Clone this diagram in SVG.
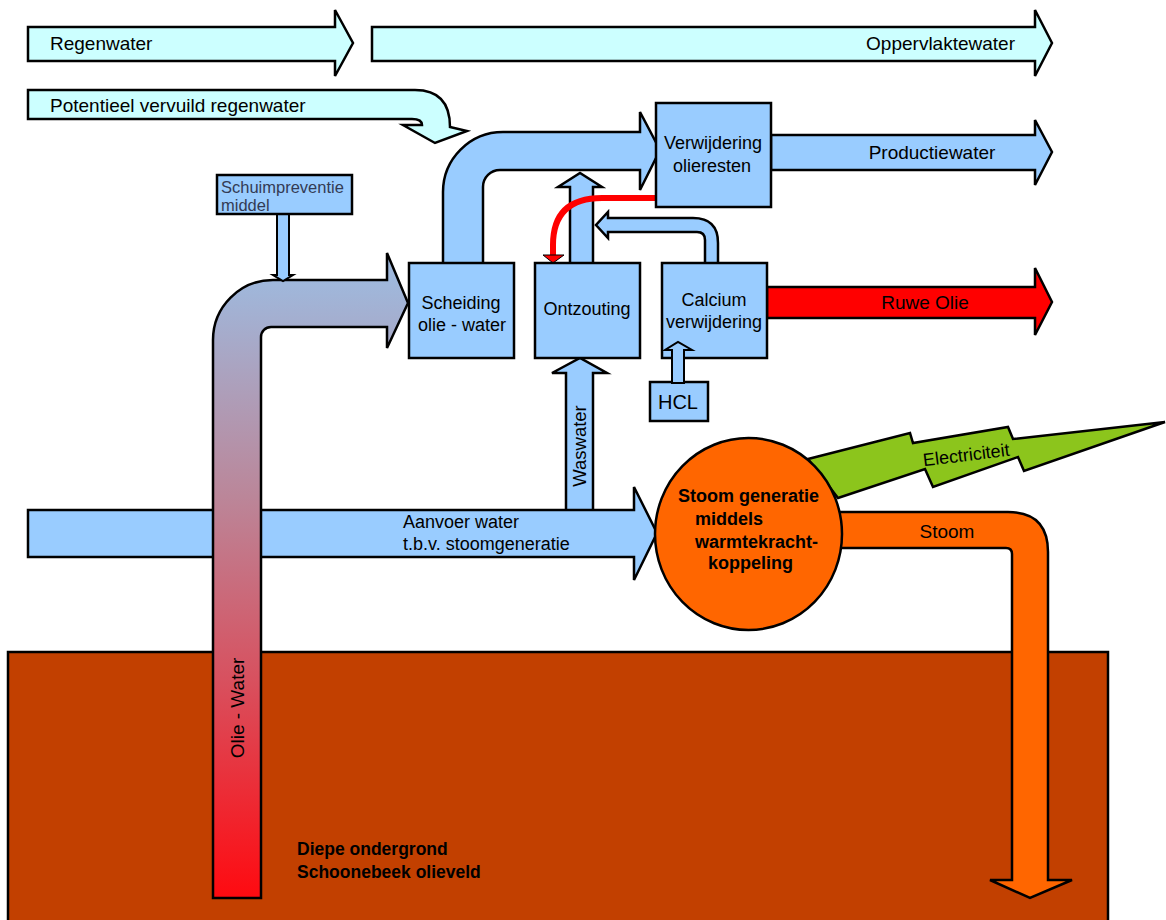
<svg xmlns="http://www.w3.org/2000/svg" width="1166" height="920" viewBox="0 0 1166 920">
<style>
.o{stroke:#000;stroke-width:2.5;stroke-linejoin:miter}
.b{fill:#99ccff}
.c{fill:#ccffff}
.or{fill:#ff6600}
.t{font-family:"Liberation Sans",Arial,sans-serif;font-size:19px;fill:#000}
.bx{font-family:"Liberation Sans",Arial,sans-serif;font-size:18px;fill:#000}
.bd{font-family:"Liberation Sans",Arial,sans-serif;font-size:18px;font-weight:bold;fill:#000}
</style>
<defs>
<linearGradient id="oilg" gradientUnits="userSpaceOnUse" x1="0" y1="280" x2="0" y2="898">
<stop offset="0" stop-color="#9fb8dc"/>
<stop offset="0.35" stop-color="#bb8699"/>
<stop offset="0.65" stop-color="#d8505e"/>
<stop offset="1" stop-color="#ff0a10"/>
</linearGradient>
</defs>
<rect width="1166" height="920" fill="#fff"/>
<g id="ground">
<rect x="8" y="652" width="1100" height="280" fill="#c24000" class="o"/>
<text class="bd" x="297" y="855" style="font-size:17.5px">Diepe ondergrond</text>
<text class="bd" x="297" y="878" style="font-size:17.5px">Schoonebeek olieveld</text>
</g>
<g id="connectors">
<g id="regenwater">
<polygon class="o c" points="28,27 335,27 335,10 353,43 335,76 335,61 28,61"/>
<text class="t" x="50" y="50">Regenwater</text>
</g>
<g id="oppervlaktewater">
<polygon class="o c" points="372,27 1035,27 1035,10 1052,43 1035,76 1035,61 372,61"/>
<text class="t" x="1015" y="50" text-anchor="end">Oppervlaktewater</text>
</g>
<g id="potentieel">
<path class="o c" d="M28,90 L415,90 Q450,90 450,127 L467,131 L435,143 L403,125 L422,125 Q422,119 412,119 L28,119 Z"/>
<text class="t" x="50" y="112">Potentieel vervuild regenwater</text>
</g>
<g id="stoom">
<path class="o or" d="M830,512 L1008,512 Q1048,512 1048,552 L1048,880 L1072,880 L1030,898 L990,880 L1012,880 L1012,554 Q1012,548 1006,548 L830,548 Z"/>
<text class="t" x="947" y="538" text-anchor="middle">Stoom</text>
</g>
<g id="electriciteit">
<polygon class="o" fill="#8cc51c" points="808,459 910,433 913,443 1008,427 1013,439 1165,422 1024,471 1018,457 933,487 925,469 838,498"/>
<text x="0" y="0" transform="translate(967,461) rotate(-7)" text-anchor="middle" style="font-family:'Liberation Sans',Arial,sans-serif;font-size:18px">Electriciteit</text>
</g>
<g id="waswater">
<polygon class="o b" points="566,515 566,373 552,373 580,358 607,373 593,373 593,515"/>
<text class="bx" transform="translate(586,446) rotate(-90)" text-anchor="middle" style="font-size:18.5px">Waswater</text>
</g>
<g id="aanvoer">
<polygon class="o b" points="28,510 634,510 634,487 657,533 634,580 634,557 28,557"/>
<text class="bx" x="403" y="528">Aanvoer water</text>
<text class="bx" x="403" y="550">t.b.v. stoomgeneratie</text>
</g>
<g id="olie-water">
<path class="o" fill="url(#oilg)" d="M213,898 L213,340 A60,60 0 0 1 273,280 L387,280 L387,253 L408,303 L387,348 L387,327 L271,327 A10,10 0 0 0 261,337 L261,898 Z"/>
<text transform="translate(244,708) rotate(-90)" text-anchor="middle" style="font-family:'Liberation Sans',Arial,sans-serif;font-size:19px">Olie - Water</text>
</g>
<g id="schuim-arrow">
<polygon class="o b" points="277,212 289,212 289,275 293,275 283,281 273,275 277,275" style="stroke-width:2"/>
</g>
<g id="main-arrow">
<path class="o b" d="M443,265 L443,192 A60,60 0 0 1 503,132 L640,132 L640,112 L660,150 L640,190 L640,170 L500,170 A17,17 0 0 0 483,187 L483,265 Z"/>
</g>
<g id="productiewater">
<polygon class="o b" points="771,135 1035,135 1035,120 1052,152 1035,185 1035,170 771,170"/>
<text class="t" x="932" y="159" text-anchor="middle">Productiewater</text>
</g>
<g id="ruwe-olie">
<polygon class="o" fill="#ff0000" points="767,287 1035,287 1035,268 1052,302 1035,335 1035,318 767,318"/>
<text class="t" x="925" y="309" text-anchor="middle">Ruwe Olie</text>
</g>
<g id="ontzouting-up">
<polygon class="o b" points="570,265 570,187 558,187 580,173 602,187 593,187 593,265"/>
</g>
<g id="calcium-return">
<path class="o b" d="M705,265 L705,240 Q705,232 697,232 L608,232 L608,238 L596,225 L608,212 L608,218 L693,218 Q718,218 718,243 L718,265 Z"/>
</g>
<g id="red-return">
<path d="M658,198 L602,198 Q553,198 553,245 L553,256" fill="none" stroke="#ff0000" stroke-width="6"/>
<polygon points="543,255 564,255 553,263" fill="#ff0000" stroke="#000" stroke-width="1"/>
</g>
</g>
<g id="schuimpreventie">
<rect class="o b" x="217" y="175" width="135" height="39"/>
<text x="221" y="193" style="font-family:'Liberation Sans',Arial,sans-serif;font-size:16.5px;fill:#333b55">Schuimpreventie</text>
<text x="221" y="211" style="font-family:'Liberation Sans',Arial,sans-serif;font-size:16.5px;fill:#333b55">middel</text>
</g>
<g id="scheiding">
<rect class="o b" x="409" y="263" width="105" height="95"/>
<text class="bx" x="461" y="309" text-anchor="middle">Scheiding</text>
<text class="bx" x="462" y="331" text-anchor="middle">olie - water</text>
</g>
<g id="ontzouting">
<rect class="o b" x="535" y="263" width="105" height="95"/>
<text class="bx" x="587" y="315" text-anchor="middle">Ontzouting</text>
</g>
<g id="calcium">
<rect class="o b" x="662" y="263" width="105" height="95"/>
<text class="bx" x="714" y="306" text-anchor="middle">Calcium</text>
<text class="bx" x="714" y="328" text-anchor="middle">verwijdering</text>
</g>
<g id="verwijdering">
<rect class="o b" x="656" y="103" width="115" height="104"/>
<text class="bx" x="713" y="149" text-anchor="middle">Verwijdering</text>
<text class="bx" x="712" y="172" text-anchor="middle">olieresten</text>
</g>
<g id="hcl">
<rect class="o b" x="650" y="382" width="58" height="39"/>
<text class="bx" x="678" y="409" text-anchor="middle" style="font-size:20px">HCL</text>
</g>
<g id="connectors-top">
<polygon class="o b" points="672,383 672,350 665,350 678,342 692,350 684,350 684,383" style="stroke-width:2"/>
</g>
<g id="stoomgeneratie">
<ellipse class="o or" cx="748.5" cy="534" rx="93.5" ry="96"/>
<text class="bd" x="678" y="502">Stoom generatie</text>
<text class="bd" x="695" y="525">middels</text>
<text class="bd" x="695" y="548">warmtekracht-</text>
<text class="bd" x="708" y="569">koppeling</text>
</g>
</svg>
